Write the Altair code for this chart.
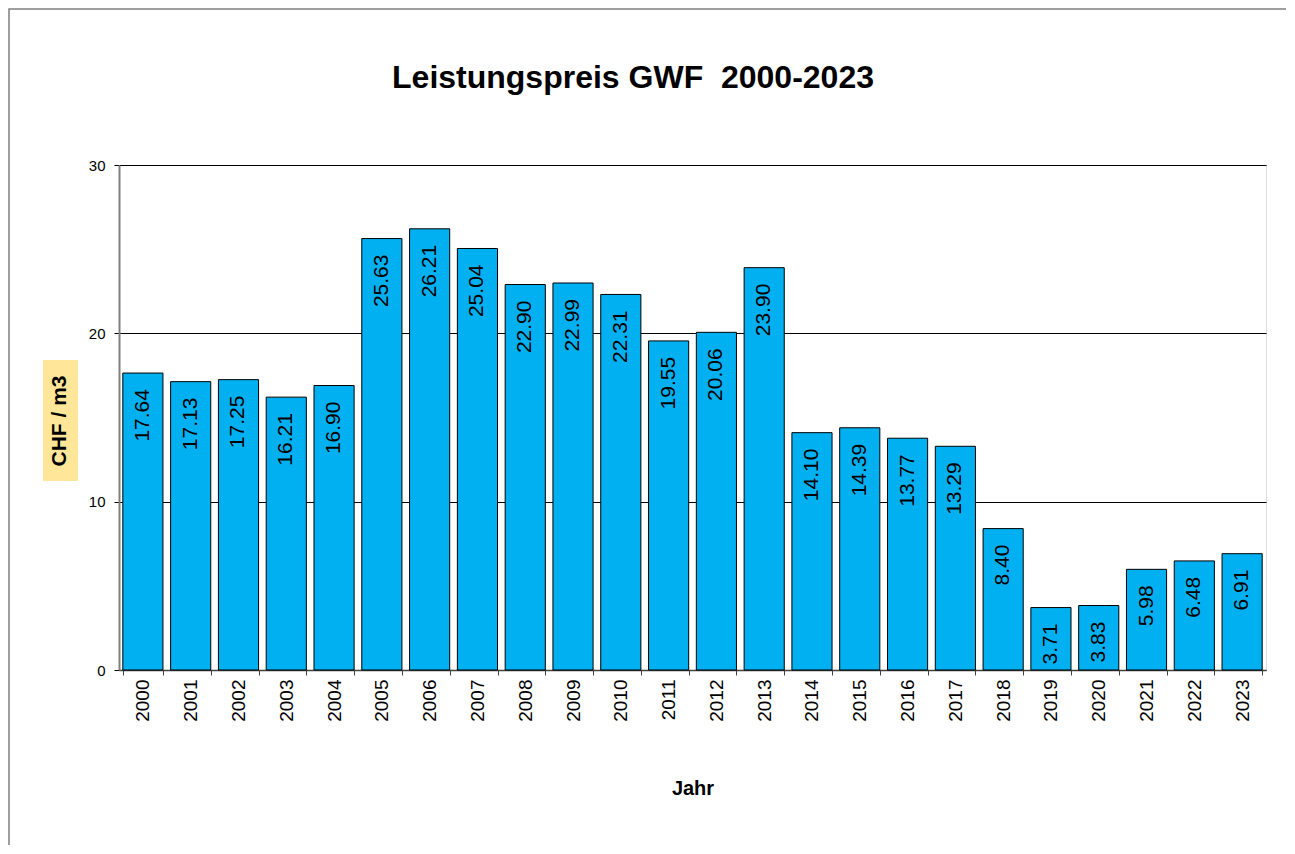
import altair as alt
import pandas as pd

years = [str(y) for y in range(2000, 2024)]
values = [17.64, 17.13, 17.25, 16.21, 16.90, 25.63, 26.21, 25.04, 22.90, 22.99,
          22.31, 19.55, 20.06, 23.90, 14.10, 14.39, 13.77, 13.29, 8.40, 3.71,
          3.83, 5.98, 6.48, 6.91]
y_ticks = [0, 10, 20, 30]
title_text = "Leistungspreis GWF\u00a0\u00a02000-2023"
x_title = "Jahr"
y_title = "CHF / m3"

df = pd.DataFrame({"Jahr": years, "Wert": values})
df["Label"] = [f"{v:.2f}" for v in values]

FONT = "Liberation Sans"
W, H = 1147, 505

x_enc = alt.X(
    "Jahr:N",
    sort=years,
    scale=alt.Scale(paddingInner=0.16, paddingOuter=0.08),
    axis=alt.Axis(
        title=x_title,
        titleFont=FONT, titleFontSize=20, titleFontWeight="bold", titleColor="black",
        titlePadding=57,
        labelAngle=-90, labelFont=FONT, labelFontSize=19, labelColor="black",
        labelAlign="right", labelBaseline="middle", labelPadding=4,
        tickBand="extent", tickSize=5, tickColor="#404040", tickWidth=1,
        domainColor="#404040", domainWidth=1.5, grid=False,
    ),
)
y_enc = alt.Y(
    "Wert:Q",
    scale=alt.Scale(domain=[0, 30], nice=False),
    axis=alt.Axis(
        title=None, values=y_ticks, labelFont=FONT, labelFontSize=15,
        labelColor="black", labelPadding=9, tickSize=5, tickColor="black",
        domainColor="#808080", domainWidth=2, grid=True, gridColor="black",
        gridWidth=1, gridOpacity=1,
    ),
)

bars = alt.Chart(df).mark_bar(
    color="#00B0F0", stroke="black", strokeWidth=1
).encode(x=x_enc, y=y_enc)

labels = alt.Chart(df).mark_text(
    angle=270, align="right", baseline="middle", dx=-16,
    font=FONT, fontSize=21, color="black",
).encode(x=alt.X("Jahr:N", sort=years), y="Wert:Q", text="Label:N")

one = pd.DataFrame({"t": [y_title], "title": [title_text]})
ybox = alt.Chart(one).mark_rect(color="#FFE699").encode(
    x=alt.value(-76), x2=alt.value(-41), y=alt.value(195), y2=alt.value(316)
)
ytext = alt.Chart(one).mark_text(
    angle=270, align="center", baseline="middle",
    font=FONT, fontSize=21, fontWeight="bold", color="black",
).encode(x=alt.value(-59), y=alt.value(256), text="t:N")

ttext = alt.Chart(one).mark_text(
    align="center", baseline="alphabetic",
    font=FONT, fontSize=32, fontWeight="bold", color="black",
).encode(x=alt.value(514), y=alt.value(-77), text="title:N")

border = alt.Chart(one).mark_rect(
    fill=None, stroke="#808080", strokeWidth=1.5
).encode(
    x=alt.value(-110), x2=alt.value(W + 60), y=alt.value(-156), y2=alt.value(H + 200)
)

chart = alt.layer(border, bars, labels, ybox, ytext, ttext).properties(
    width=W, height=H,
    autosize=alt.AutoSizeParams(type="none"),
    padding={"left": 111, "top": 157, "right": 20, "bottom": 175},
).configure_view(stroke=None).configure(background="white")

chart.save("out.html", embed_options={"renderer": "svg", "actions": False})
